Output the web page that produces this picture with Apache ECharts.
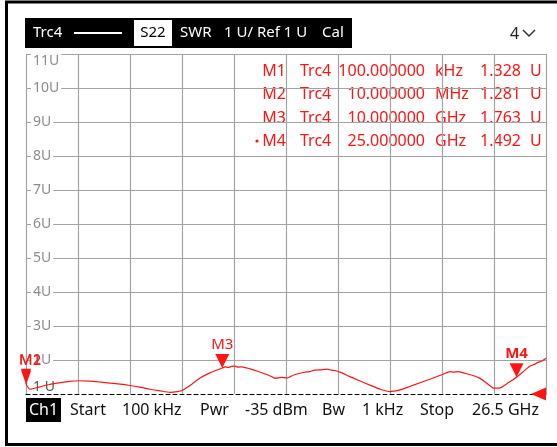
<!DOCTYPE html>
<html>
<head>
<meta charset="utf-8">
<title>Trc4 S22 SWR</title>
<script src="https://cdn.jsdelivr.net/npm/echarts@6/dist/echarts.min.js"></script>
<style>
  body { margin: 0; background: #fff; }
  #main { width: 557px; height: 447px; }
</style>
</head>
<body>
<div id="main"></div>
<script>
// frequency in MHz, SWR in U
var freqMHz = [0.1, 10, 200, 700, 1200, 1730, 2200, 2700, 3260, 3800, 4280, 4800, 5300, 5800, 6320, 6850, 7340, 7700, 8000, 8450, 8870, 9400,
  10000, 10150, 10300, 10480, 10650, 10820, 11000, 11420, 11800, 12180, 12450, 12690, 13000, 13300, 13650, 13960, 14200, 14450, 14700, 14980, 15350, 15550, 15750,
  16100, 16510, 17000, 17530, 18050, 18550, 19060, 19550, 20080, 20650, 21250, 21610, 21800, 22000, 22370, 22750, 23140, 23500, 23850, 24160, 24550,
  25000, 25330, 25680, 25900, 26100, 26300, 26500];
var swr = [1.328, 1.281, 1.14, 1.21, 1.28, 1.33, 1.37, 1.39, 1.38, 1.35, 1.32, 1.29, 1.25, 1.20, 1.14, 1.09, 1.05, 1.07, 1.12, 1.29, 1.47, 1.63,
  1.763, 1.80, 1.78, 1.81, 1.82, 1.79, 1.80, 1.74, 1.67, 1.59, 1.53, 1.46, 1.49, 1.47, 1.56, 1.61, 1.64, 1.66, 1.70, 1.71, 1.73, 1.70, 1.69,
  1.62, 1.51, 1.39, 1.26, 1.14, 1.07, 1.12, 1.22, 1.33, 1.45, 1.58, 1.66, 1.64, 1.66, 1.61, 1.55, 1.46, 1.31, 1.17, 1.18, 1.32,
  1.492, 1.65, 1.82, 1.87, 1.93, 1.97, 2.05];

var markerNames = ["M1", "M2", "M3", "M4"];
var markerFreq = [0.1, 10, 10000, 25000];
var markerSwr = [1.328, 1.281, 1.763, 1.492];
var markerFreqText = ["100.000000", "10.000000", "10.000000", "25.000000"];
var markerFreqUnit = ["kHz", "MHz", "GHz", "GHz"];
var markerSwrText = ["1.328", "1.281", "1.763", "1.492"];

var yMin = 1, yMax = 11;
var xMin = 0, xMax = 26500, xStep = 2650;

var bottomLabels = ["Start", "100 kHz", "Pwr", "-35 dBm", "Bw", "1 kHz", "Stop", "26.5 GHz"];
var bottomX = [70, 122, 200, 245, 322, 362, 420, 472];

var FONT = "Noto Sans";
var RED = "#ff1414";

var chart = echarts.init(document.getElementById("main"));

var points = [];
for (var i = 0; i < freqMHz.length; i++) points.push([freqMHz[i], swr[i]]);

// marker triangles + labels
var mp = [];
for (var k = 0; k < markerNames.length; k++) {
  var small = k < 2;
  mp.push({
    name: markerNames[k],
    coord: [markerFreq[k], markerSwr[k]],
    symbol: "triangle",
    symbolRotate: 180,
    symbolSize: small ? [10, 14] : [14, 14],
    symbolOffset: [0, -7],
    label: {
      show: true,
      position: "top",
      distance: 2,
      offset: small ? [4, 0] : [0, 0],
      formatter: "{b}",
      color: RED,
      fontFamily: FONT,
      fontSize: 15,
      fontWeight: k === 3 ? "bold" : "normal"
    }
  });
}
// reference position arrow on the right
mp.push({
  name: "ref",
  coord: [xMax, yMin],
  symbol: "triangle",
  symbolRotate: 90,
  symbolSize: [13, 15],
  symbolOffset: [-7.5, 0],
  label: { show: false }
});

var g = [];
// outer frame
g.push({ type: "rect", shape: { x: 6.5, y: 2, width: 600, height: 442.5 }, style: { fill: null, stroke: "#000", lineWidth: 3 }, silent: true });
// header bar
g.push({ type: "rect", shape: { x: 25, y: 18, width: 327, height: 30 }, style: { fill: "#000" } });
g.push({ type: "text", x: 33, y: 33, style: { text: "Trc4", fill: "#fff", font: "15px " + FONT, verticalAlign: "middle" } });
g.push({ type: "line", shape: { x1: 74, y1: 33, x2: 122, y2: 33 }, style: { stroke: "#fff", lineWidth: 2 } });
g.push({ type: "rect", shape: { x: 134, y: 20, width: 38, height: 26 }, style: { fill: "#fff" } });
g.push({ type: "text", x: 153, y: 33, style: { text: "S22", fill: "#000", font: "15px " + FONT, align: "center", verticalAlign: "middle" } });
g.push({ type: "text", x: 180, y: 33, style: { text: "SWR", fill: "#fff", font: "15px " + FONT, verticalAlign: "middle" } });
g.push({ type: "text", x: 224, y: 33, style: { text: "1 U/ Ref 1 U", fill: "#fff", font: "15px " + FONT, verticalAlign: "middle" } });
g.push({ type: "text", x: 322, y: 33, style: { text: "Cal", fill: "#fff", font: "15px " + FONT, verticalAlign: "middle" } });
g.push({ type: "text", x: 510, y: 34, style: { text: "4", fill: "#222", font: "16px " + FONT, verticalAlign: "middle" } });
g.push({ type: "polyline", shape: { points: [[523, 30], [529, 36], [535, 30]] }, style: { stroke: "#333", lineWidth: 1.5, fill: null } });

// marker table
var rowY = [71, 94, 118, 141];
for (var r = 0; r < markerNames.length; r++) {
  var f = "16px " + FONT;
  g.push({ type: "text", x: 286, y: rowY[r], style: { text: markerNames[r], fill: RED, font: f, align: "right", verticalAlign: "middle" } });
  g.push({ type: "text", x: 300, y: rowY[r], style: { text: "Trc4", fill: RED, font: f, verticalAlign: "middle" } });
  g.push({ type: "text", x: 425, y: rowY[r], style: { text: markerFreqText[r], fill: RED, font: f, align: "right", verticalAlign: "middle" } });
  g.push({ type: "text", x: 435, y: rowY[r], style: { text: markerFreqUnit[r], fill: RED, font: f, verticalAlign: "middle" } });
  g.push({ type: "text", x: 521, y: rowY[r], style: { text: markerSwrText[r], fill: RED, font: f, align: "right", verticalAlign: "middle" } });
  g.push({ type: "text", x: 530, y: rowY[r], style: { text: "U", fill: RED, font: f, verticalAlign: "middle" } });
}
g.push({ type: "circle", shape: { cx: 257, cy: 141, r: 1.6 }, style: { fill: RED } });

// channel bar at the bottom
g.push({ type: "rect", shape: { x: 26, y: 398, width: 35, height: 24 }, style: { fill: "#000" } });
g.push({ type: "text", x: 43.5, y: 410, style: { text: "Ch1", fill: "#fff", font: "16px " + FONT, align: "center", verticalAlign: "middle" } });
for (var b = 0; b < bottomLabels.length; b++) {
  g.push({ type: "text", x: bottomX[b], y: 410, style: { text: bottomLabels[b], fill: "#111", font: "16px " + FONT, verticalAlign: "middle" } });
}

chart.setOption({
  animation: false,
  backgroundColor: "#fff",
  grid: { left: 26, right: 11, top: 54, bottom: 53 },
  xAxis: {
    type: "value",
    min: xMin,
    max: xMax,
    interval: xStep,
    axisLabel: { show: false },
    axisTick: { show: false },
    axisLine: { show: true, lineStyle: { color: "#000", type: [4, 3], width: 1 } },
    splitLine: { show: true, lineStyle: { color: "#a3a3a3", width: 1.2 } }
  },
  yAxis: {
    type: "value",
    min: yMin,
    max: yMax,
    interval: 1,
    axisLine: { show: false },
    axisTick: { show: false },
    axisLabel: {
      inside: true,
      margin: 5,
      color: "#8c8c8c",
      fontFamily: FONT,
      fontSize: 14,
      backgroundColor: "#fff",
      padding: [0, 2],
      verticalAlignMaxLabel: "top",
      verticalAlignMinLabel: "bottom",
      formatter: function (v) {
        if (v === 1) return "{d|1 U}";
        return v + "U";
      },
      rich: { d: { color: "#555", fontFamily: FONT, fontSize: 14 } }
    },
    splitLine: { show: true, showMinLine: false, lineStyle: { color: "#a3a3a3", width: 1.2 } }
  },
  series: [{
    type: "line",
    name: "Trc4",
    data: points,
    showSymbol: false,
    smooth: 0.2,
    lineStyle: { color: RED, width: 1.2 },
    itemStyle: { color: RED },
    markPoint: { silent: true, itemStyle: { color: RED }, data: mp }
  }],
  graphic: g
});
</script>
</body>
</html>
